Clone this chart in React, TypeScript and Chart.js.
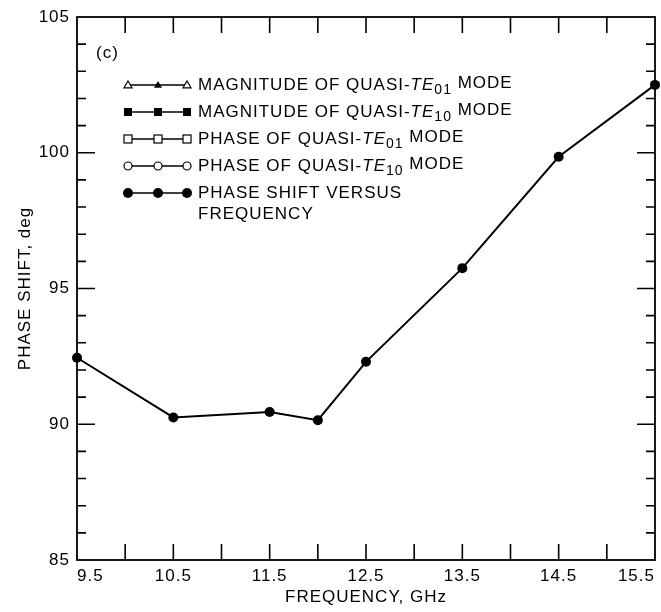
import React, { useEffect, useRef } from "react";
import { Chart, registerables } from "chart.js";

Chart.register(...registerables);

const frequencies = [9.5, 10.5, 11.5, 12.0, 12.5, 13.5, 14.5, 15.5];
const phaseShift = [92.45, 90.25, 90.45, 90.15, 92.3, 95.75, 99.85, 102.5];

const xMin = 9.5;
const xMax = 15.5;
const yMin = 85;
const yMax = 105;

const legendMarkers = ["triangle", "rect", "rectOpen", "circleOpen", "circle"];
const legendParts: string[][] = [
  ["MAGNITUDE OF QUASI-", "TE", "01", " MODE"],
  ["MAGNITUDE OF QUASI-", "TE", "10", " MODE"],
  ["PHASE OF QUASI-", "TE", "01", " MODE"],
  ["PHASE OF QUASI-", "TE", "10", " MODE"],
  ["PHASE SHIFT VERSUS", "", "", ""],
];
const legendSecondLine = ["", "", "", "", "FREQUENCY"];
const panelLabel = "(c)";

const FONT = "'Liberation Sans', Arial, Helvetica, sans-serif";

function setSpacing(ctx: any) {
  if (ctx && "letterSpacing" in ctx) ctx.letterSpacing = "1px";
}

function drawMarker(ctx: CanvasRenderingContext2D, kind: string, x: number, y: number, big: boolean) {
  ctx.save();
  ctx.fillStyle = "#000";
  ctx.strokeStyle = "#000";
  ctx.lineWidth = 1.2;
  if (kind === "triangle") {
    const s = 4;
    ctx.beginPath();
    ctx.moveTo(x, y - s);
    ctx.lineTo(x + s, y + s * 0.7);
    ctx.lineTo(x - s, y + s * 0.7);
    ctx.closePath();
    if (big) ctx.fill();
    else {
      ctx.fillStyle = "#fff";
      ctx.fill();
      ctx.stroke();
    }
  } else if (kind === "rect") {
    ctx.fillRect(x - 4, y - 4, 8, 8);
  } else if (kind === "rectOpen") {
    ctx.fillStyle = "#fff";
    ctx.fillRect(x - 4, y - 4, 8, 8);
    ctx.strokeRect(x - 4, y - 4, 8, 8);
  } else if (kind === "circleOpen") {
    ctx.beginPath();
    ctx.arc(x, y, 4, 0, Math.PI * 2);
    ctx.fillStyle = "#fff";
    ctx.fill();
    ctx.stroke();
  } else {
    ctx.beginPath();
    ctx.arc(x, y, 5, 0, Math.PI * 2);
    ctx.fill();
  }
  ctx.restore();
}

const spacingPlugin = {
  id: "spacingPlugin",
  beforeInit(chart: any) {
    setSpacing(chart.ctx);
  },
  beforeUpdate(chart: any) {
    setSpacing(chart.ctx);
  },
  beforeLayout(chart: any) {
    setSpacing(chart.ctx);
  },
  beforeDraw(chart: any) {
    setSpacing(chart.ctx);
  },
};

const framePlugin = {
  id: "framePlugin",
  afterDraw(chart: any) {
    const ctx: CanvasRenderingContext2D = chart.ctx;
    const { left, right, top, bottom } = chart.chartArea;
    const xs = chart.scales.x;
    const ys = chart.scales.y;
    ctx.save();
    setSpacing(ctx);
    ctx.strokeStyle = "#000";
    ctx.lineWidth = 1.8;
    ctx.strokeRect(left, top, right - left, bottom - top);
    ctx.lineWidth = 1.6;
    ctx.beginPath();
    xs.ticks.forEach((t: any) => {
      const px = xs.getPixelForValue(t.value);
      if (t.value <= xMin || t.value >= xMax) return;
      ctx.moveTo(px, bottom);
      ctx.lineTo(px, bottom - 16);
      ctx.moveTo(px, top);
      ctx.lineTo(px, top + 16);
    });
    ys.ticks.forEach((t: any) => {
      const py = ys.getPixelForValue(t.value);
      if (t.value <= yMin || t.value >= yMax) return;
      const len = t.value % 5 === 0 ? 18 : 9;
      ctx.moveTo(left, py);
      ctx.lineTo(left + len, py);
      ctx.moveTo(right, py);
      ctx.lineTo(right - len, py);
    });
    ctx.stroke();

    // panel label
    ctx.fillStyle = "#000";
    ctx.font = `17px ${FONT}`;
    ctx.textBaseline = "middle";
    ctx.textAlign = "left";
    ctx.fillText(panelLabel, 96, 53);

    // legend
    const x1 = 128, x2 = 158, x3 = 187, tx = 198;
    const rowY = [85, 112, 139, 166, 193];
    legendParts.forEach((parts, i) => {
      const y = rowY[i];
      ctx.lineWidth = 1.5;
      ctx.beginPath();
      ctx.moveTo(x1, y);
      ctx.lineTo(x3, y);
      ctx.stroke();
      const kind = legendMarkers[i];
      drawMarker(ctx, kind, x1, y, false);
      drawMarker(ctx, kind, x2, y, true);
      drawMarker(ctx, kind, x3, y, false);
      let cx = tx;
      ctx.font = `17px ${FONT}`;
      ctx.fillText(parts[0], cx, y);
      cx += ctx.measureText(parts[0]).width;
      if (parts[1]) {
        ctx.font = `italic 17px ${FONT}`;
        ctx.fillText(parts[1], cx, y);
        cx += ctx.measureText(parts[1]).width;
        ctx.font = `14px ${FONT}`;
        ctx.fillText(parts[2], cx, y + 5);
        cx += ctx.measureText(parts[2]).width;
        ctx.font = `17px ${FONT}`;
        ctx.fillText(parts[3], cx, y - 2);
      }
      if (legendSecondLine[i]) {
        ctx.font = `17px ${FONT}`;
        ctx.fillText(legendSecondLine[i], tx, y + 21);
      }
    });
    ctx.restore();
  },
};

export default function App() {
  const ref = useRef<HTMLCanvasElement>(null);
  useEffect(() => {
    const canvas = ref.current;
    if (!canvas) return;
    const chart = new Chart(canvas, {
      type: "scatter",
      data: {
        datasets: [
          {
            label: "PHASE SHIFT VERSUS FREQUENCY",
            data: frequencies.map((f, i) => ({ x: f, y: phaseShift[i] })),
            showLine: true,
            borderColor: "#000",
            backgroundColor: "#000",
            borderWidth: 2,
            pointRadius: 5,
            pointBorderWidth: 0,
            clip: false,
          } as any,
        ],
      },
      options: {
        animation: false,
        responsive: false,
        maintainAspectRatio: false,
        layout: { padding: { left: 0, right: 6, top: 17, bottom: 0 } },
        plugins: { legend: { display: false }, tooltip: { enabled: false } },
        scales: {
          x: {
            type: "linear",
            min: xMin,
            max: xMax,
            grid: { display: false, drawTicks: false },
            border: { display: false },
            afterFit: (s: any) => {
              s.height = 52;
              s.paddingLeft = 0;
              s.paddingRight = 0;
            },
            ticks: {
              stepSize: 0.5,
              padding: 6,
              align: "inner",
              color: "#000",
              font: { family: FONT, size: 17 },
              maxRotation: 0,
              autoSkip: false,
              callback: (v: any) => (Math.abs(v % 1) > 0.25 ? Number(v).toFixed(1) : ""),
            },
            title: {
              display: true,
              text: "FREQUENCY, GHz",
              color: "#000",
              font: { family: FONT, size: 17 },
              padding: { top: 0, bottom: 4 },
            },
          },
          y: {
            type: "linear",
            min: yMin,
            max: yMax,
            grid: { display: false, drawTicks: false },
            border: { display: false },
            afterFit: (s: any) => {
              s.width = 77;
              s.paddingTop = 0;
              s.paddingBottom = 0;
            },
            ticks: {
              stepSize: 1,
              padding: 7,
              color: "#000",
              font: { family: FONT, size: 17 },
              autoSkip: false,
              callback: (v: any) => (Number(v) % 5 === 0 ? String(v) : ""),
            },
            title: {
              display: true,
              text: "PHASE SHIFT, deg",
              color: "#000",
              font: { family: FONT, size: 17 },
              padding: { top: 15, bottom: 0 },
            },
          },
        },
      },
      plugins: [spacingPlugin, framePlugin],
    });
    return () => chart.destroy();
  }, []);
  return (
    <div style={{ position: "fixed", left: 0, top: 0, width: 661, height: 612, background: "#fff" }}>
      <canvas ref={ref} width={661} height={612} style={{ display: "block" }} />
    </div>
  );
}
